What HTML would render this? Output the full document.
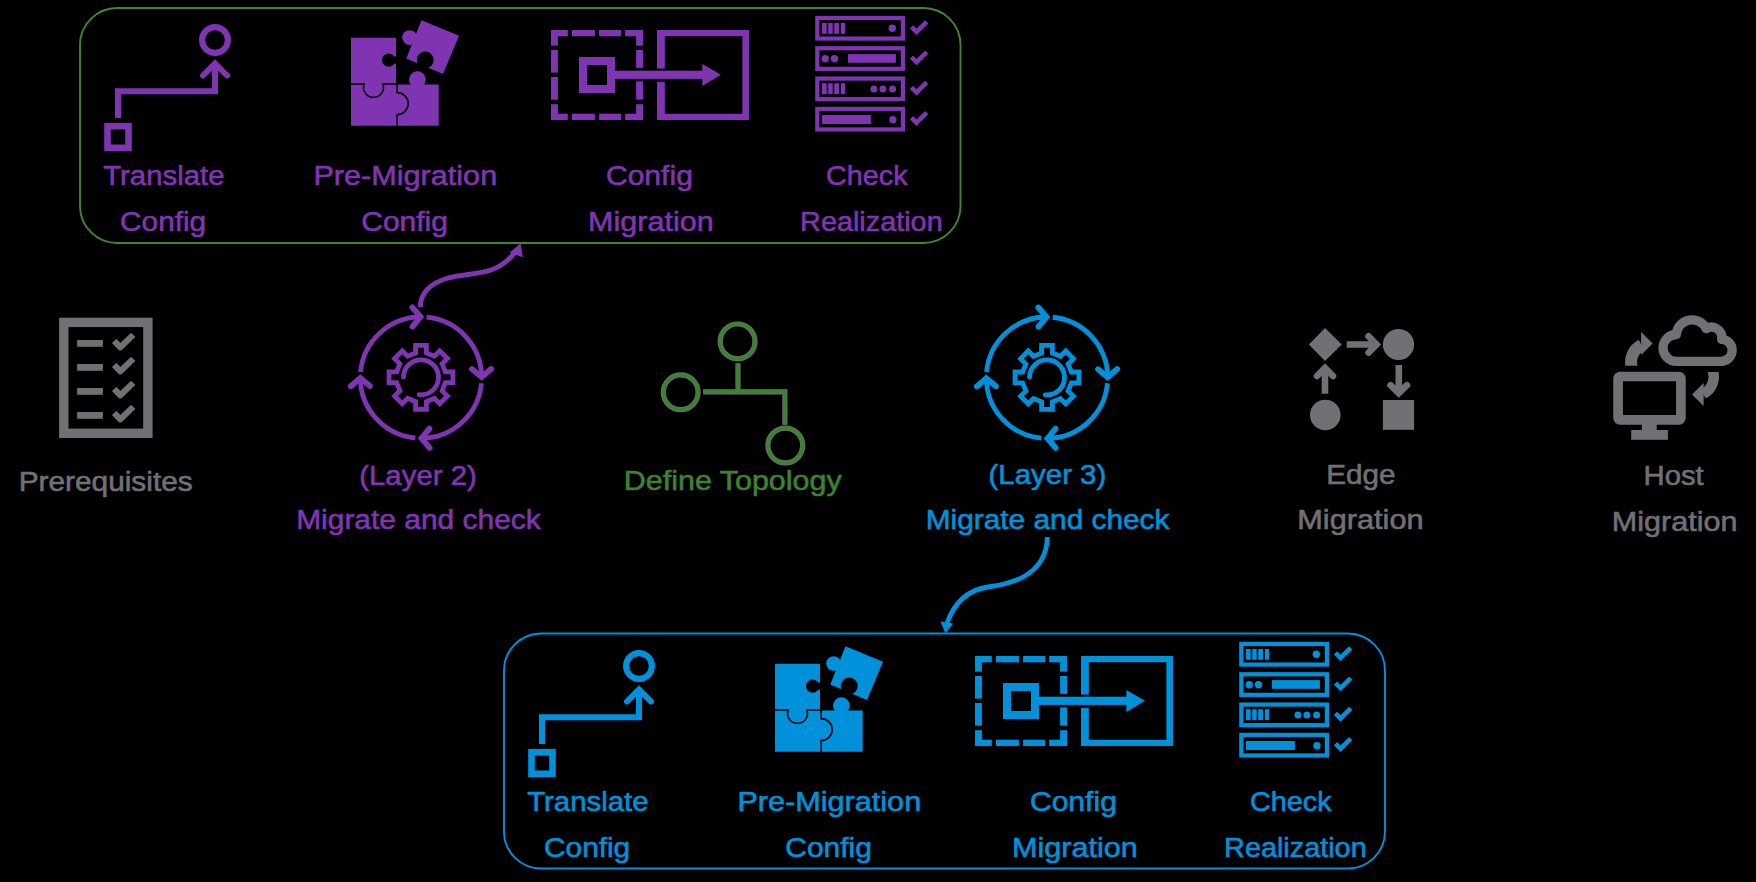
<!DOCTYPE html>
<html><head><meta charset="utf-8"><style>
html,body{margin:0;padding:0;background:#000;}
body{width:1756px;height:882px;overflow:hidden;}
svg{display:block;}
</style></head><body>
<svg width="1756" height="882" viewBox="0 0 1756 882">
<rect width="1756" height="882" fill="#000"/>
<defs>
<g id="grp" fill="currentColor">
 <rect x="107.5" y="126.2" width="21" height="21.6" fill="none" stroke="currentColor" stroke-width="6.6"/>
 <path d="M118 118 V91.2 H215 V63" fill="none" stroke="currentColor" stroke-width="6"/>
 <path d="M203 75.5 L215 63.5 L227 75.5" fill="none" stroke="currentColor" stroke-width="6" stroke-linecap="round"/>
 <circle cx="215" cy="40" r="12.9" fill="none" stroke="currentColor" stroke-width="6.2"/>
 <path d="M351 37.7 H396 V84.4 H438.7 V125.7 H351 Z"/>
 <circle cx="417.4" cy="79.6" r="8.4"/>
 <circle cx="388.6" cy="60.1" r="6.6" fill="#000"/>
 <rect x="388.6" y="56.5" width="8" height="7.2" fill="#000"/>
 <path d="M351 84 H364.1 A10 10 0 1 0 382.9 84 H397.5 M397.2 84 V92.6 A11 11 0 1 1 397.2 114.6 V126" stroke="#000" stroke-width="1.6" fill="none"/>
 <path d="M421.5 20.3 L459 35.8 L443 74.1 L406.3 58.6 Z"/>
 <circle cx="409.6" cy="37.6" r="7.4"/>
 <circle cx="425.2" cy="60.1" r="8.5" fill="#000"/>
 <rect x="551" y="30" width="16.8" height="6.3"/><rect x="572" y="30" width="22.9" height="6.3"/><rect x="599.1" y="30" width="21.9" height="6.3"/><rect x="625.2" y="30" width="17.8" height="6.3"/>
 <rect x="551" y="113.7" width="16.8" height="6.3"/><rect x="572" y="113.7" width="22.9" height="6.3"/><rect x="599.1" y="113.7" width="21.9" height="6.3"/><rect x="625.2" y="113.7" width="17.8" height="6.3"/>
 <rect x="551" y="30" width="6.9" height="15.7"/><rect x="551" y="50" width="6.9" height="22.6"/><rect x="551" y="77" width="6.9" height="22.7"/><rect x="551" y="104.2" width="6.9" height="15.8"/>
 <rect x="636.1" y="30" width="6.9" height="15.7"/><rect x="636.1" y="50" width="6.9" height="17.9"/><rect x="636.1" y="81.4" width="6.9" height="18.3"/><rect x="636.1" y="104.2" width="6.9" height="15.8"/>
 <rect x="583" y="61" width="28" height="28" fill="none" stroke="currentColor" stroke-width="8"/>
 <rect x="614" y="70.7" width="89" height="8.2"/>
 <path d="M702.3 63.9 L721 74.8 L702.3 86 Z"/>
 <rect x="657" y="30" width="92" height="6.2"/><rect x="657" y="113.8" width="92" height="6.2"/><rect x="742.4" y="30" width="6.6" height="90"/>
 <rect x="657" y="30" width="7.8" height="38.6"/><rect x="657" y="81.8" width="7.8" height="38.2"/>
 <rect x="817.3" y="17.95" width="85.6" height="20.6" fill="none" stroke="currentColor" stroke-width="4.2"/>
<path d="M911.5 26.8 L916.5 31.8 L926.7 21.8" fill="none" stroke="currentColor" stroke-width="4.6"/>
<rect x="817.3" y="48.25" width="85.6" height="20.6" fill="none" stroke="currentColor" stroke-width="4.2"/>
<path d="M911.5 57.1 L916.5 62.1 L926.7 52.1" fill="none" stroke="currentColor" stroke-width="4.6"/>
<rect x="817.3" y="78.55" width="85.6" height="20.6" fill="none" stroke="currentColor" stroke-width="4.2"/>
<path d="M911.5 87.4 L916.5 92.4 L926.7 82.4" fill="none" stroke="currentColor" stroke-width="4.6"/>
<rect x="817.3" y="108.85" width="85.6" height="20.6" fill="none" stroke="currentColor" stroke-width="4.2"/>
<path d="M911.5 117.7 L916.5 122.7 L926.7 112.7" fill="none" stroke="currentColor" stroke-width="4.6"/>
<rect x="821.9" y="23" width="4.8" height="10.8"/><rect x="828.2" y="23" width="4.5" height="10.8"/><rect x="834.2" y="23" width="4.8" height="10.8"/><rect x="840.9" y="23" width="4.1" height="10.8"/>
<circle cx="892.3" cy="28.2" r="3.7"/>
<circle cx="825.2" cy="58.7" r="3.7"/><circle cx="834.5" cy="58.7" r="3.7"/><rect x="848" y="54.1" width="47.9" height="8.7"/>
<rect x="821.9" y="83.2" width="4.8" height="11"/><rect x="828.2" y="83.2" width="4.5" height="11"/><rect x="834.2" y="83.2" width="4.8" height="11"/><rect x="840.9" y="83.2" width="4.1" height="11"/>
<circle cx="873.9" cy="89" r="3.5"/><circle cx="882.9" cy="89" r="3.5"/><circle cx="892.6" cy="89" r="3.5"/>
<rect x="821.9" y="115" width="49" height="9"/><circle cx="892.9" cy="119.7" r="3.7"/>
 <g font-family="&quot;Liberation Sans&quot;, sans-serif" font-size="28" stroke-width="0.6">
  <text transform="translate(103.2 184.9) scale(1.0496 1)" fill="currentColor" stroke="currentColor">Translate</text><text transform="translate(120.04 231.4) scale(1.0646 1)" fill="currentColor" stroke="currentColor">Config</text><text transform="translate(313.41 185) scale(1.094 1)" fill="currentColor" stroke="currentColor">Pre-Migration</text><text transform="translate(361.23 231.4) scale(1.0722 1)" fill="currentColor" stroke="currentColor">Config</text><text transform="translate(605.93 185.3) scale(1.0747 1)" fill="currentColor" stroke="currentColor">Config</text><text transform="translate(588.01 230.9) scale(1.0912 1)" fill="currentColor" stroke="currentColor">Migration</text><text transform="translate(826.07 185.2) scale(1.0278 1)" fill="currentColor" stroke="currentColor">Check</text><text transform="translate(800.07 231) scale(1.0299 1)" fill="currentColor" stroke="currentColor">Realization</text>
 </g>
</g>
<g id="cyc" fill="none" stroke="currentColor" stroke-width="4.8">
 <path d="M-60.44 -5.61 A60.7 60.7 0 0 1 -0.53 -60.70 M5.61 -60.44 A60.7 60.7 0 0 1 60.70 -0.53 M60.44 5.61 A60.7 60.7 0 0 1 0.53 60.70 M-5.61 60.44 A60.7 60.7 0 0 1 -60.70 0.53"/>
 <path d="M-8.65 -70.20 L-0.53 -60.70 L-8.48 -51.05 M70.20 -8.65 L60.70 -0.53 L51.05 -8.48 M8.65 70.20 L0.53 60.70 L8.48 51.05 M-70.20 8.65 L-60.70 0.53 L-51.05 8.48" stroke-width="5.8" stroke-linecap="round"/>
 <path d="M-5.40 -24.71 L-5.40 -32.25 L5.40 -32.25 L5.40 -24.71 L13.44 -21.38 L18.77 -26.71 L26.41 -19.07 L21.08 -13.74 L24.41 -5.70 L31.95 -5.70 L31.95 5.10 L24.41 5.10 L21.08 13.14 L26.41 18.47 L18.77 26.11 L13.44 20.78 L5.40 24.11 L5.40 31.65 L-5.40 31.65 L-5.40 24.11 L-13.44 20.78 L-18.77 26.11 L-26.41 18.47 L-21.08 13.14 L-24.41 5.10 L-31.95 5.10 L-31.95 -5.70 L-24.41 -5.70 L-21.08 -13.74 L-26.41 -19.07 L-18.77 -26.71 L-13.44 -21.38 Z" stroke-linejoin="miter"/>
 <path d="M-17.50 -0.61 A17.5 17.5 0 1 1 -1.83 17.10" stroke-linecap="round"/>
</g>
</defs>
<rect x="80" y="8" width="880.5" height="235" rx="37" ry="37" fill="none" stroke="#3f8534" stroke-width="1.9"/>
<use href="#grp" style="color:#7f35b2"/>
<rect x="504" y="633.5" width="881" height="235" rx="37" ry="37" fill="none" stroke="#0091da" stroke-width="1.9"/>
<use href="#grp" transform="translate(424 626)" style="color:#0091da"/>
<g fill="#717075">
 <rect x="63.8" y="322.4" width="84.1" height="110.9" fill="none" stroke="#717075" stroke-width="9.4"/>
 <rect x="77.1" y="340" width="25.8" height="6.8"/><rect x="77.1" y="364" width="25.8" height="6.8"/><rect x="77.1" y="388" width="25.8" height="6.8"/><rect x="77.1" y="412" width="25.8" height="6.8"/>
 <path d="M114.2 340.9 L120.3 347.3 L133.2 334.9 M114.2 364.9 L120.3 371.3 L133.2 358.9 M114.2 388.9 L120.3 395.3 L133.2 382.9 M114.2 412.9 L120.3 419.3 L133.2 406.9" fill="none" stroke="#717075" stroke-width="6.1" stroke-linejoin="round"/>
</g>
<use href="#cyc" transform="translate(421 377.6)" style="color:#7f35b2"/>
<use href="#cyc" transform="translate(1047 377.7)" style="color:#0091da"/>
<path d="M420.3 307 C420.5 292 431 283 448 278 C462 274.5 479 274 491 270 C500 267 508 261 515.5 252" fill="none" stroke="#7f35b2" stroke-width="4.9"/>
<path d="M520.6 243.2 L522.9 257.2 L509.6 252.8 Z" fill="#7f35b2"/>
<path d="M1047.3 537 C1047 556 1039 568 1024 576.5 C1012 583 1000 585.5 988 587 C970 589.5 955 601 947 623" fill="none" stroke="#0091da" stroke-width="4.8"/>
<path d="M945.5 633.4 L940.6 621.6 L953.2 623.6 Z" fill="#0091da"/>
<g id="topo" fill="none">
 <circle cx="737.6" cy="341.4" r="17.4"/>
 <circle cx="680.7" cy="392.3" r="17.4"/>
 <circle cx="785.3" cy="445.5" r="17.4"/>
 <path d="M738 363.3 V391.8 M703.2 391.8 H784.9 V424.8"/>
</g>
<use href="#topo" stroke="#707070" stroke-width="5.2"/>
<use href="#topo" stroke="#3c8232" stroke-width="3.9"/>
<g fill="#717075">
 <path d="M1325 328 L1341.8 344.5 L1325 361 L1308.9 344.5 Z"/>
 <circle cx="1398.5" cy="344.5" r="15.6"/>
 <circle cx="1325.3" cy="415" r="15.3"/>
 <rect x="1382.9" y="400" width="31.2" height="29.8"/>
 <g fill="none" stroke="#717075" stroke-width="6.6" stroke-linecap="round">
  <path d="M1368.5 336.3 L1376.5 344.5 L1368.5 352.7 M1317 376 L1325 368 L1333 376 M1390.5 385.2 L1398.8 393.2 L1407 385.2"/>
  <path d="M1346.7 344.5 H1376 M1325 393.7 V368 M1398.8 364.9 V393" stroke-linecap="butt"/>
 </g>
</g>
<g fill="#717075">
 <rect x="1618.1" y="376.5" width="62.8" height="43.3" rx="2" fill="none" stroke="#717075" stroke-width="9.7"/>
 <rect x="1641.9" y="423" width="14.8" height="8"/>
 <rect x="1631.2" y="430" width="36.7" height="9.8"/>
 <path d="M1721.20 361.30 H1676.50 A13.40 13.40 0 0 1 1676.33 334.50 A15.70 15.70 0 0 1 1706.15 328.70 A10.30 10.30 0 0 1 1721.64 339.31 A11.00 11.00 0 0 1 1721.20 361.30 Z" fill="none" stroke="#717075" stroke-width="9.3" stroke-linejoin="round"/>
 <clipPath id="c1"><rect x="1600" y="300" width="60" height="65.8"/></clipPath><clipPath id="c2"><rect x="1680" y="372" width="60" height="60"/></clipPath><path d="M1632.9 370 A18.9 18.9 0 0 1 1641.5 345.1" fill="none" stroke="#717075" stroke-width="12" clip-path="url(#c1)"/>
 <path d="M1641.1 332.1 L1652.6 343.6 L1641.1 355.1 Z"/>
 <path d="M1711.4 368 A18.75 18.75 0 0 1 1703.2 393.9" fill="none" stroke="#717075" stroke-width="10.5" clip-path="url(#c2)"/>
 <path d="M1703.6 383.1 L1692 394.6 L1703.6 406.1 Z"/>
</g>
<g font-family="&quot;Liberation Sans&quot;, sans-serif" font-size="28" stroke-width="0.6">
 <text transform="translate(18.74 491) scale(1.0648 1)" fill="#717075" stroke="#717075">Prerequisites</text><text transform="translate(359.25 485.3) scale(1.05 1)" fill="#7f35b2" stroke="#7f35b2">(Layer 2)</text><text transform="translate(296.13 529.3) scale(1.0697 1)" fill="#7f35b2" stroke="#7f35b2">Migrate and check</text><text transform="translate(623.81 489.7) scale(1.0875 1)" fill="#3c8232" stroke="#3c8232">Define Topology</text><text transform="translate(988.55 483.8) scale(1.0509 1)" fill="#0091da" stroke="#0091da">(Layer 3)</text><text transform="translate(925.73 529.2) scale(1.0658 1)" fill="#0091da" stroke="#0091da">Migrate and check</text><text transform="translate(1326.34 484.4) scale(1.0594 1)" fill="#717075" stroke="#717075">Edge</text><text transform="translate(1297.3 529.4) scale(1.0965 1)" fill="#717075" stroke="#717075">Migration</text><text transform="translate(1643.55 485.2) scale(1.0456 1)" fill="#717075" stroke="#717075">Host</text><text transform="translate(1611.81 530.5) scale(1.0912 1)" fill="#717075" stroke="#717075">Migration</text>
</g>
</svg>
</body></html>
